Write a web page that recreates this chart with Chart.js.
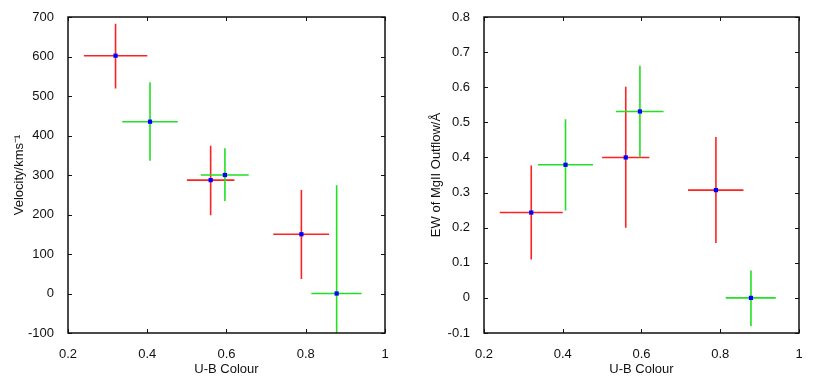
<!DOCTYPE html>
<html>
<head>
<meta charset="utf-8">
<script src="https://cdn.jsdelivr.net/npm/chart.js@4"></script>
<style>
html, body { margin: 0; padding: 0; background: #fff; }
#wrap { position: relative; width: 817px; height: 381px; }
.panel { position: absolute; top: 0; height: 381px; }
</style>
</head>
<body>
<div id="wrap">
  <div class="panel" style="left:0;width:408px"><canvas id="velChart"></canvas></div>
  <div class="panel" style="left:408px;width:409px"><canvas id="ewChart"></canvas></div>
</div>
<script>
// U-B colour bins (same in both panels)
const redColour = [0.320, 0.560, 0.789];
const redColourLo = [0.240, 0.500, 0.718];
const redColourHi = [0.400, 0.620, 0.859];
const greenColour = [0.407, 0.596, 0.878];
const greenColourLo = [0.337, 0.535, 0.814];
const greenColourHi = [0.477, 0.656, 0.941];

// outflow velocity, km/s
const redVel = [602, 287, 150];
const redVelLo = [519, 198, 37];
const redVelHi = [683, 374, 262];
const greenVel = [435, 300, 0];
const greenVelLo = [336, 234, -100];
const greenVelHi = [535, 368, 274];

// EW of MgII outflow, Angstrom
const redEW = [0.243, 0.400, 0.307];
const redEWLo = [0.109, 0.200, 0.156];
const redEWHi = [0.377, 0.601, 0.458];
const greenEW = [0.379, 0.531, 0];
const greenEWLo = [0.249, 0.400, -0.081];
const greenEWHi = [0.509, 0.661, 0.078];

const fontFamily = "'Liberation Sans', Arial, sans-serif";

function points(xs, ys) {
    return xs.map((x, i) => ({ x: x, y: ys[i] }));
}

// draws the crosses under the blue markers
const errorBars = {
    id: 'errorBars',
    beforeDatasetsDraw(chart) {
        const ctx = chart.ctx;
        const xs = chart.scales.x, ys = chart.scales.y;
        const area = chart.chartArea;
        ctx.save();
        ctx.beginPath();
        ctx.rect(area.left, area.top, area.right - area.left, area.bottom - area.top);
        ctx.clip();
        chart.data.datasets.forEach(ds => {
            const e = ds.errors;
            ctx.strokeStyle = e.color;
            ctx.lineWidth = 1.6;
            ds.data.forEach((p, i) => {
                const px = xs.getPixelForValue(p.x);
                const py = ys.getPixelForValue(p.y);
                ctx.beginPath();
                ctx.moveTo(xs.getPixelForValue(e.xLo[i]), py);
                ctx.lineTo(xs.getPixelForValue(e.xHi[i]), py);
                ctx.moveTo(px, ys.getPixelForValue(e.yLo[i]));
                ctx.lineTo(px, ys.getPixelForValue(e.yHi[i]));
                ctx.stroke();
            });
        });
        ctx.restore();
    }
};

// box round the plot with inward ticks on every side
const boxFrame = {
    id: 'boxFrame',
    afterDraw(chart) {
        const ctx = chart.ctx;
        const a = chart.chartArea;
        const xs = chart.scales.x, ys = chart.scales.y;
        const len = 4;
        ctx.save();
        ctx.strokeStyle = '#111';
        ctx.lineWidth = 1;
        ctx.beginPath();
        xs.ticks.forEach(t => {
            const px = Math.round(xs.getPixelForValue(t.value)) + 0.5;
            ctx.moveTo(px, a.bottom); ctx.lineTo(px, a.bottom - len);
            ctx.moveTo(px, a.top); ctx.lineTo(px, a.top + len);
        });
        ys.ticks.forEach(t => {
            const py = Math.round(ys.getPixelForValue(t.value)) + 0.5;
            ctx.moveTo(a.left, py); ctx.lineTo(a.left + len, py);
            ctx.moveTo(a.right, py); ctx.lineTo(a.right - len, py);
        });
        ctx.stroke();
        ctx.lineWidth = 1.5;
        ctx.strokeRect(a.left, a.top, a.right - a.left, a.bottom - a.top);
        ctx.restore();
    }
};

function makeChart(id, yTitle, yMin, yMax, yStep, yWidth, titlePad, rightPad, red, green, redLo, redHi, greenLo, greenHi) {
    const config = {
        type: 'scatter',
        data: {
            datasets: [
                {
                    data: points(redColour, red),
                    errors: { color: '#ff2222', xLo: redColourLo, xHi: redColourHi, yLo: redLo, yHi: redHi },
                },
                {
                    data: points(greenColour, green),
                    errors: { color: '#22e022', xLo: greenColourLo, xHi: greenColourHi, yLo: greenLo, yHi: greenHi },
                },
            ],
        },
        options: {
            responsive: true,
            maintainAspectRatio: false,
            animation: false,
            layout: { padding: { top: 17, right: rightPad, bottom: 0, left: 0 } },
            elements: {
                point: {
                    pointStyle: 'rect',
                    radius: 3,
                    backgroundColor: '#0000ff',
                    borderColor: '#0000ff',
                    borderWidth: 0,
                },
            },
            plugins: {
                legend: { display: false },
                tooltip: { enabled: false },
            },
            scales: {
                x: {
                    type: 'linear',
                    min: 0.2,
                    max: 1,
                    grid: { display: false },
                    border: { display: false },
                    ticks: {
                        stepSize: 0.2,
                        padding: 6,
                        color: '#111',
                        font: { family: fontFamily, size: 13 },
                        callback: v => String(Math.round(v * 10) / 10),
                    },
                    title: {
                        display: true,
                        text: 'U-B Colour',
                        color: '#111',
                        padding: { top: 4, bottom: 4 },
                        font: { family: fontFamily, size: 13 },
                    },
                    afterFit: s => { s.height = 48; },
                },
                y: {
                    type: 'linear',
                    min: yMin,
                    max: yMax,
                    grid: { display: false },
                    border: { display: false },
                    ticks: {
                        stepSize: yStep,
                        padding: 6,
                        color: '#111',
                        font: { family: fontFamily, size: 13 },
                        callback: v => String(Math.round(v * 100) / 100),
                    },
                    title: {
                        display: true,
                        text: yTitle,
                        color: '#111',
                        padding: { top: titlePad, bottom: 0 },
                        font: { family: fontFamily, size: 13 },
                    },
                    afterFit: s => { s.width = yWidth; },
                },
            },
        },
        plugins: [errorBars, boxFrame],
    };
    return new Chart(document.getElementById(id), config);
}

makeChart('velChart', 'Velocity/kms\u207B\u00B9', -100, 700, 100, 68, 12, 23,
    redVel, greenVel, redVelLo, redVelHi, greenVelLo, greenVelHi);
makeChart('ewChart', 'EW of MgII Outflow/\u00C5', -0.1, 0.8, 0.1, 76, 21, 18,
    redEW, greenEW, redEWLo, redEWHi, greenEWLo, greenEWHi);
</script>
</body>
</html>
